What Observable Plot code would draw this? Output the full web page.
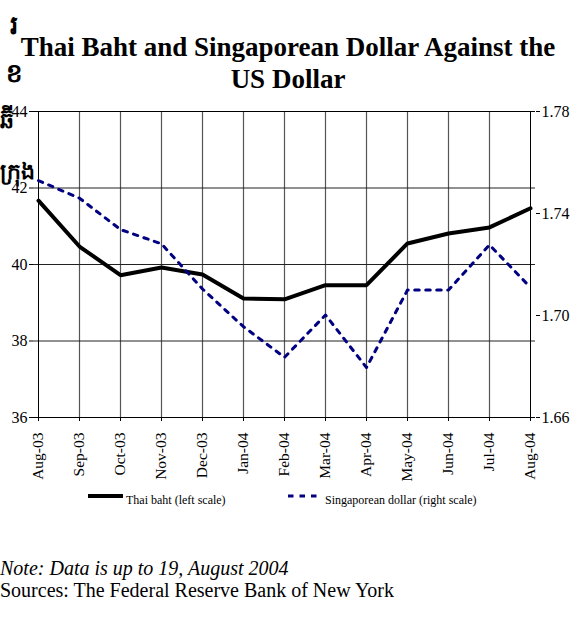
<!DOCTYPE html>
<html>
<head>
<meta charset="utf-8">
<script src="https://cdn.jsdelivr.net/npm/d3@7"></script>
<script src="https://cdn.jsdelivr.net/npm/@observablehq/plot@0.6"></script>
<style>
  html, body { margin: 0; padding: 0; background: #fff; }
  #wrap { position: relative; width: 580px; height: 635px; overflow: hidden; font-family: "Liberation Serif", "Times New Roman", serif; color: #000; }
  .abs { position: absolute; white-space: nowrap; }
  #title { left: 0; top: 31px; width: 576px; text-align: center; font-weight: bold; font-size: 27px; line-height: 32px; white-space: normal; }
  #chart { position: absolute; left: 0; top: 100px; }
  .km { font-family: "Noto Sans", "DejaVu Sans", sans-serif; font-weight: bold; font-size: 26px; line-height: 1; }
  .km2 { font-size: 22px; }
  .note { font-size: 20px; }
</style>
</head>
<body>
<div id="wrap">
  <div id="title" class="abs">Thai Baht and Singaporean Dollar Against the<br>US Dollar</div>
  <div class="abs km" style="left:10px; top:11px;">រ</div>
  <div class="abs km" style="left:6px; top:59px;">ខ</div>
  <div class="abs km km2" style="left:0px; top:108px;">ឆ៊ី</div>
  <div class="abs km km2" style="left:0px; top:159px;">ក្រុង</div>
  <div id="chart"></div>
  <svg class="abs" style="left:0; top:484px;" width="580" height="30">
    <line x1="88" x2="123" y1="12" y2="12" stroke="#000" stroke-width="4"></line>
    <text x="126" y="20" font-size="12" font-family="Liberation Serif">Thai baht (left scale)</text>
    <line x1="288" x2="322" y1="12" y2="12" stroke="#000080" stroke-width="3" stroke-dasharray="5.5,6"></line>
    <text x="325" y="20" font-size="12" font-family="Liberation Serif">Singaporean dollar (right scale)</text>
  </svg>
  <div class="abs note" style="left:0px; top:557px; font-style:italic;">Note: Data is up to 19, August 2004</div>
  <div class="abs note" style="left:0px; top:579px;">Sources: The Federal Reserve Bank of New York</div>
</div>
<script>
const months = ["Aug-03","Sep-03","Oct-03","Nov-03","Dec-03","Jan-04","Feb-04","Mar-04","Apr-04","May-04","Jun-04","Jul-04","Aug-04"];
const thaiBaht = [41.67, 40.47, 39.72, 39.92, 39.74, 39.11, 39.09, 39.46, 39.46, 40.55, 40.81, 40.97, 41.47];
const sgdDollar = [1.7529, 1.7460, 1.7337, 1.7281, 1.7104, 1.6956, 1.6836, 1.7002, 1.6796, 1.7100, 1.7100, 1.7277, 1.7110];
const leftTicks = [36, 38, 40, 42, 44];
const rightTicks = [1.66, 1.70, 1.74, 1.78];
const leftDomain = [36, 44];
const rightDomain = [1.66, 1.78];

const toLeft = v => leftDomain[0] + (v - rightDomain[0]) / (rightDomain[1] - rightDomain[0]) * (leftDomain[1] - leftDomain[0]);
const toRight = v => rightDomain[0] + (v - leftDomain[0]) / (leftDomain[1] - leftDomain[0]) * (rightDomain[1] - rightDomain[0]);

const data = months.map((m, i) => ({month: m, thb: thaiBaht[i], sgd: toLeft(sgdDollar[i])}));

const chart = Plot.plot({
  width: 580,
  height: 390,
  marginLeft: 33,
  marginRight: 45,
  marginTop: 11,
  marginBottom: 73,
  style: {fontFamily: "Liberation Serif", fontSize: "16px", color: "#000", background: "transparent"},
  x: {type: "point", domain: months, padding: 0},
  y: {domain: leftDomain},
  marks: [
    Plot.ruleX(months.slice(1, -1), {stroke: "#555", strokeWidth: 1.2}),
    Plot.ruleY([38, 40, 42], {stroke: "#222", strokeWidth: 1}),
    Plot.ruleY([44], {stroke: "#000", strokeWidth: 1}),
    Plot.ruleY([36], {stroke: "#000", strokeWidth: 1}),
    Plot.ruleX([months[0], months[months.length - 1]], {stroke: "#000", strokeWidth: 1}),
    Plot.line(data, {x: "month", y: "thb", stroke: "#000", strokeWidth: 4, strokeLinejoin: "miter"}),
    Plot.line(data, {x: "month", y: "sgd", stroke: "#000080", strokeWidth: 3, strokeDasharray: "4.5,6.5"}),
    Plot.axisY({anchor: "left", ticks: leftTicks, tickSize: 4, tickPadding: 2, label: null, fontSize: 16}),
    Plot.axisY({anchor: "right", ticks: rightTicks.map(toLeft), tickFormat: d => toRight(d).toFixed(2), tickSize: 4, tickPadding: 2, label: null, fontSize: 16}),
    Plot.axisX({tickRotate: -90, tickSize: 4, tickPadding: 11, label: null, fontSize: 15.5})
  ]
});
document.getElementById("chart").appendChild(chart);
</script>
</body>
</html>
